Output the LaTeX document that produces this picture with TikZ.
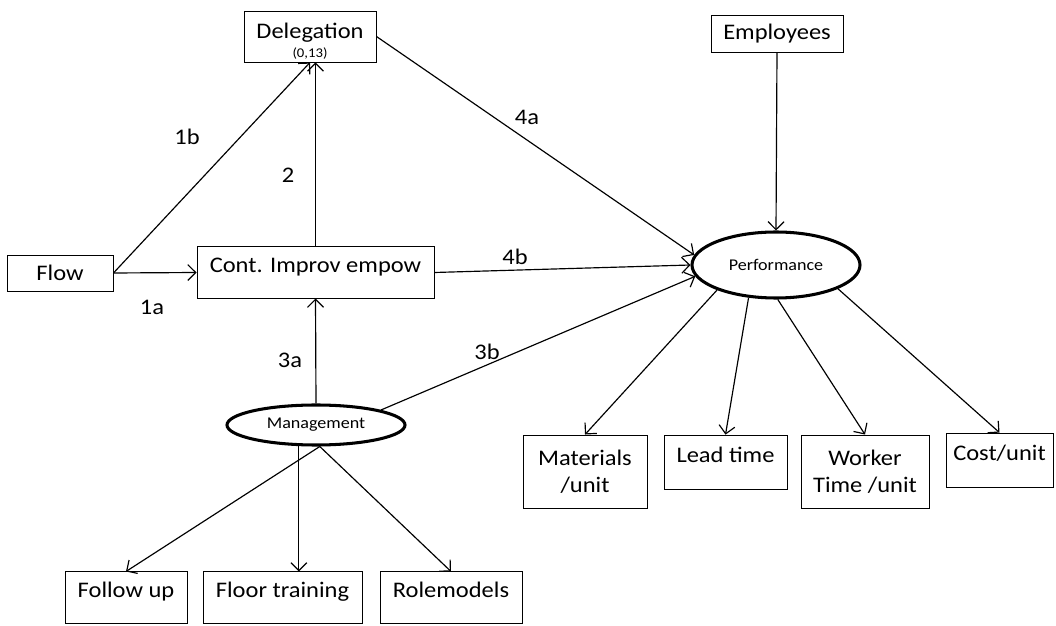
\documentclass[tikz,border=0pt]{standalone}
\usepackage{fontspec}
\setmainfont{Carlito}[FakeStretch=1.1]
\usetikzlibrary{shapes.geometric,arrows.meta}

\tikzset{
  box/.style={draw, rectangle, inner sep=0pt, align=center, font=\fontsize{9.5}{11.5}\selectfont},
  topbox/.style={box, text height=11.1pt, text depth=10.7pt},
  midbox/.style={box, text height=11.7pt, text depth=11.7pt},
  oval/.style={draw, ellipse, line width=1.3pt, inner sep=0pt, font=\fontsize{7}{8}\selectfont},
  link/.style={-{Straight Barb[length=3.4pt,width=6.8pt]}, line width=0.5pt},
  num/.style={inner sep=0pt, font=\fontsize{9.5}{11}\selectfont}
}

\begin{document}
\begin{tikzpicture}[x=0.015cm, y=-0.015cm]

\useasboundingbox (0,0) rectangle (1056,626);

% boxes
\node[box, minimum width=1.98cm, minimum height=0.765cm] (deleg) at (310,36.5) {\rule{0pt}{10.5pt}Delegation\\[-3.4pt]{\fontsize{5.7}{6}\selectfont (0,13)}};
\node[box, minimum width=1.98cm, minimum height=0.555cm] (empl) at (777,33.5) {Employees};
\node[box, minimum width=1.59cm, minimum height=0.54cm] (flow) at (60,273) {Flow};
\node[topbox, minimum width=3.555cm] (cont) at (315.5,272.5) {Cont. Improv empow};

% ovals
\node[oval, minimum width=2.52cm, minimum height=0.99cm] (perf) at (776,265) {Performance};
\node[oval, minimum width=2.67cm, minimum height=0.6cm] (mgmt) at (316,425) {Management};

% measures
\node[box, minimum width=1.86cm, minimum height=1.095cm] (mat) at (585,471.5) {Materials\\/unit};
\node[midbox, minimum width=1.845cm] (lead) at (725.5,462.5) {Lead time};
\node[box, minimum width=1.92cm, minimum height=1.095cm] (work) at (865,471.5) {Worker\\Time /unit};
\node[midbox, minimum width=1.605cm] (cost) at (999.5,460.5) {Cost/unit};

% management items
\node[topbox, minimum width=1.83cm] (follow) at (126,597.5) {Follow up};
\node[topbox, minimum width=2.385cm] (floor) at (282.5,597.5) {Floor training};
\node[topbox, minimum width=2.13cm] (role) at (451,597.5) {Rolemodels};

% links
\draw[link] (flow.east) -- (cont.west);
\draw[link] (flow.east) -- (deleg.south);
\draw[link] (cont.north) -- (cont.north |- deleg.south);
\draw[link] (deleg.east) -- (perf.173);
\draw[link] (cont.east) -- (perf.west);
\draw[link] (mgmt.north) -- (cont.south);
\draw[link] (mgmt.13) -- (perf.188);
\draw[link] (empl.south) -- (perf.north);

\draw[link] (perf.203) -- (mat.north);
\draw[link] (perf.230) -- (lead.north);
\draw[link] (perf.273) -- (work.north);
\draw[link] (perf.339) -- (cost.north);

\draw[link] (mgmt.280) -- (follow.north);
\draw[link] (mgmt.231) -- (mgmt.231 |- floor.north);
\draw[link] (mgmt.280) -- (role.north);

% numbers
\node[num] (n1a) at (152,307) {1a};
\node[num] (n1b) at (187,137) {1b};
\node[num] (n2) at (288,175) {2};
\node[num] (n3a) at (290,360) {3a};
\node[num] (n3b) at (487,352) {3b};
\node[num] (n4a) at (527,117) {4a};
\node[num] (n4b) at (515,257) {4b};

\end{tikzpicture}
\end{document}
